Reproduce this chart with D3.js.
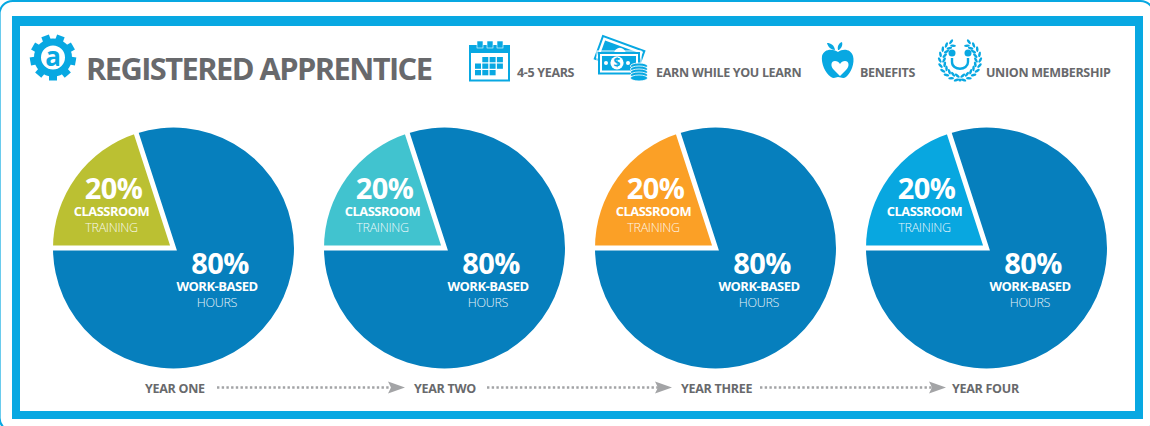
<!DOCTYPE html>
<html><head><meta charset="utf-8">
<script src="https://cdn.jsdelivr.net/npm/d3@7"></script>
<style>html,body{margin:0;padding:0;background:#fff;overflow:hidden}svg{display:block}text{font-family:"Open Sans",sans-serif}</style>
</head><body><svg id="c" width="1150" height="426"></svg>
<script>
const years = ["YEAR ONE","YEAR TWO","YEAR THREE","YEAR FOUR"];
const classroomShare = [20,20,20,20];
const workShare = [80,80,80,80];
const classroomColors = ["#bbc032","#41c3cf","#fba026","#08a7e0"];
const workColor = "#067fbd";
const legendLabels = ["4-5 YEARS","EARN WHILE YOU LEARN","BENEFITS","UNION MEMBERSHIP"];
const legendX = [517,656,860,986];
const CY = "#08a8e2", GR = "#68696c";

const W=1150,H=426;
const svg=d3.select("#c");
// frames
svg.append("rect").attr("x",-0.4).attr("y",1).attr("width",W+4).attr("height",H+4).attr("rx",13).attr("fill","#fff").attr("stroke",CY).attr("stroke-width",2);
svg.append("rect").attr("x",16).attr("y",21).attr("width",1123).attr("height",394).attr("fill","#fff").attr("stroke",CY).attr("stroke-width",8);
svg.append("rect").attr("x",12).attr("y",16).attr("width",1131).attr("height",10).attr("fill",CY);

// scales
const x=d3.scalePoint().domain(years).range([173.5,986.5]);
const cy=248,R=120.5;
const pie=d3.pie().sort(null).startAngle(-Math.PI/2).endAngle(1.5*Math.PI);
const arc=d3.arc().innerRadius(0).outerRadius(R);
const radial=d3.lineRadial().angle(d=>d[0]).radius(d=>d[1]);

years.forEach((y,i)=>{
  const g=svg.append("g").attr("transform",`translate(${x(y)},${cy})`);
  const arcs=pie([classroomShare[i],workShare[i]]);
  g.selectAll("path.s").data(arcs).join("path").attr("class","s").attr("d",arc)
    .attr("fill",(d,j)=>j===0?classroomColors[i]:workColor);
  g.append("path").attr("d",radial([[arcs[0].startAngle,R+2],[arcs[0].startAngle,0],[arcs[0].endAngle,R+2]]))
    .attr("fill","none").attr("stroke","#fff").attr("stroke-width",5).attr("stroke-linejoin","miter").attr("stroke-miterlimit",10);
  const t=(dx,dy,s,size,w,ls,op)=>g.append("text").attr("x",dx).attr("y",dy).attr("text-anchor","middle").attr("fill","#fff")
     .attr("font-size",size).attr("font-weight",w).attr("letter-spacing",ls).attr("opacity",op||1).text(s);
  t(-60,-49,classroomShare[i]+"%",29,700,-0.6);
  t(-62,-32,"CLASSROOM",12.9,700,-0.5);
  t(-62,-16,"TRAINING",12.5,300,-0.3,.9);
  t(46.5,26,workShare[i]+"%",29,700,-0.6);
  t(43.5,42.5,"WORK-BASED",13,700,-0.5);
  t(43.5,59,"HOURS",12.5,300,-0.3,.9);
});

// title
svg.append("text").attr("x",86).attr("y",80).attr("font-size",30.8).attr("font-weight",700).attr("fill",GR).attr("letter-spacing",-1.55).text("REGISTERED APPRENTICE");
// legend
svg.selectAll("text.l").data(legendLabels).join("text").attr("class","l").attr("x",(d,i)=>legendX[i]).attr("y",77)
  .attr("font-size",12.5).attr("font-weight",700).attr("fill",GR).attr("letter-spacing",-0.33).text(d=>d);

// year timeline
svg.selectAll("text.y").data(years).join("text").attr("class","y").attr("x",(d,i)=>[145,414,681,952][i]).attr("y",393)
  .attr("font-size",12.5).attr("font-weight",700).attr("fill",GR).attr("letter-spacing",-0.28).text(d=>d);
[[217,391],[487,658],[760,932]].forEach(([a,b])=>{
  svg.append("line").attr("x1",a).attr("x2",b).attr("y1",387.5).attr("y2",387.5).attr("stroke","#a3a4a6").attr("stroke-width",2.4).attr("stroke-dasharray","2.4 2.3");
  svg.append("path").attr("d",`M${b-3} 381.5L${b+14} 387.5L${b-3} 393.5L${b} 387.5Z`).attr("fill","#a3a4a6");
});

// gear logo
const gear=svg.append("g").attr("transform","translate(53,57.5)");
gear.selectAll("rect").data(d3.range(9)).join("rect").attr("x",-4).attr("y",-23).attr("width",8).attr("height",8).attr("fill",CY).attr("transform",d=>`rotate(${20+d*40})`);
gear.append("circle").attr("r",15.5).attr("fill","#fff").attr("stroke",CY).attr("stroke-width",7);
gear.append("text").attr("text-anchor","middle").attr("y",8.5).attr("font-size",26).attr("font-weight",700).attr("fill",CY).text("a");

// calendar
const cal=svg.append("g").attr("transform","translate(469,42)");
cal.append("rect").attr("x",1).attr("y",4).attr("width",39).attr("height",34.5).attr("fill","#fff").attr("stroke",CY).attr("stroke-width",2);
cal.append("rect").attr("x",0).attr("y",3).attr("width",41).attr("height",8).attr("fill",CY);
[8,18,28].forEach(a=>cal.append("rect").attr("x",a).attr("y",-1).attr("width",6).attr("height",7).attr("fill",CY).attr("stroke","#fff").attr("stroke-width",.6));
[[1,2,3],[0,1,2,3],[0,1,2]].forEach((row,r)=>row.forEach(c=>cal.append("rect").attr("x",6+c*7.3).attr("y",15+r*6.5).attr("width",6).attr("height",5.3).attr("fill",CY)));

// money
const m=svg.append("g").attr("transform","translate(598,34)");
const back=m.append("g").attr("transform","translate(5,2) rotate(20)");
back.append("rect").attr("x",0).attr("y",0).attr("width",44).attr("height",24).attr("fill","#fff").attr("stroke",CY).attr("stroke-width",2);
back.append("rect").attr("x",3.5).attr("y",3.5).attr("width",37).attr("height",18).attr("fill",CY);
back.append("circle").attr("cx",22).attr("cy",11).attr("r",6).attr("fill","#fff");
m.append("rect").attr("x",1).attr("y",19).attr("width",40).attr("height",20.5).attr("fill","#fff").attr("stroke",CY).attr("stroke-width",2);
m.append("rect").attr("x",-1).attr("y",17).attr("width",44).attr("height",24.5).attr("fill","none").attr("stroke","#fff").attr("stroke-width",1);
m.append("rect").attr("x",4).attr("y",22).attr("width",34).attr("height",14.5).attr("fill",CY);
[8,30].forEach(c=>m.append("circle").attr("cx",c).attr("cy",29).attr("r",2).attr("fill","#fff"));
m.append("circle").attr("cx",19).attr("cy",28.8).attr("r",6.6).attr("fill","#fff");
m.append("text").attr("x",19).attr("y",33.2).attr("text-anchor","middle").attr("font-size",12).attr("font-weight",700).attr("fill",CY).text("$");
[32,35,38,41,44].forEach(yy=>{m.append("ellipse").attr("cx",41).attr("cy",yy).attr("rx",8.6).attr("ry",3).attr("fill",CY).attr("stroke","#fff").attr("stroke-width",.8)});

// apple
const a=svg.append("g").attr("transform","translate(821,42)");
a.append("path").attr("d","M17 10C11 6 3 7 1 14C0 21 4 31 10 35C13 37 15 35 17 35C20 35 22 37 25 35C30 31 34 21 32 14C30 7 22 6 17 10Z").attr("fill",CY);
a.append("path").attr("d","M6 1C10 1 13 3 14 8C10 8 7 5 6 1Z").attr("fill",CY);
a.append("path").attr("d","M17 8C16 4 18 1 21 0C22 4 20 6 18 8Z").attr("fill",CY);
a.append("path").attr("d","M19 34L13 28C9 24 10 19 14 19C16 19 18 20 19 22C20 20 22 19 24 19C28 19 29 24 25 28Z").attr("fill","#fff");

// wreath
const wr=svg.append("g").attr("transform","translate(960,60)");
[-1,1].forEach(s=>d3.range(0,10).forEach(k=>{
  const deg=170-k*16, ang=deg*Math.PI/180*s;
  [[20.3,28],[15.9,-28]].forEach(([r,tilt])=>{
    wr.append("ellipse").attr("rx",1.3).attr("ry",2.9).attr("fill",CY)
      .attr("transform",`translate(${r*Math.sin(ang)},${-r*Math.cos(ang)}) rotate(${s*(deg+90+tilt)})`);
  });
}));
wr.append("circle").attr("cx",0).attr("cy",20).attr("r",1.6).attr("fill",CY);
wr.append("circle").attr("cx",-8).attr("cy",-7).attr("r",3.5).attr("fill",CY);
wr.append("circle").attr("cx",8).attr("cy",-7).attr("r",3.5).attr("fill",CY);
wr.append("path").attr("d","M-8 -2V2C-8 11 8 11 8 2V-2").attr("fill","none").attr("stroke",CY).attr("stroke-width",2.4);
</script></body></html>
